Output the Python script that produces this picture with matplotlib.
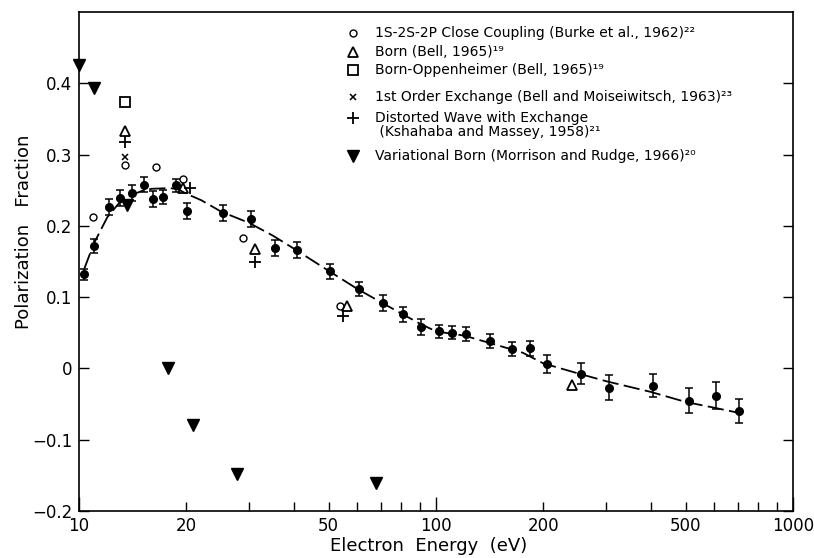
import matplotlib
matplotlib.use("Agg")
import matplotlib.pyplot as plt
from matplotlib.ticker import FixedLocator, FixedFormatter

# measured polarization fraction vs electron energy (eV)
energy = [10.3, 11.0, 12.1, 13.05, 14.1, 15.2, 16.1, 17.2, 18.7, 20.1,
          25.3, 30.3, 35.4, 40.7, 50.6, 60.8, 71.0, 80.8, 91.0, 101.7,
          110.9, 121, 142, 163, 183, 204, 254, 305, 406, 511, 610, 706]
polarization = [0.132, 0.172, 0.226, 0.239, 0.246, 0.258, 0.238, 0.241, 0.257, 0.221,
                0.218, 0.210, 0.169, 0.166, 0.136, 0.111, 0.0915, 0.076, 0.058, 0.052,
                0.050, 0.048, 0.039, 0.027, 0.028, 0.006, -0.0075, -0.027, -0.024, -0.045, -0.038, -0.060]
error = [0.008, 0.010, 0.011, 0.011, 0.011, 0.011, 0.011, 0.010, 0.009, 0.011,
         0.011, 0.011, 0.0115, 0.011, 0.0105, 0.010, 0.011, 0.0105, 0.0117, 0.0094,
         0.0094, 0.0096, 0.0099, 0.0099, 0.0099, 0.013, 0.0146, 0.0178, 0.016, 0.0176, 0.0185, 0.0167]

# smooth curve through the data
curve_e = [10.35, 11, 12, 13, 14, 15, 16, 18, 19, 20, 22, 25, 30, 35, 40, 50, 60, 70, 80,
           90, 100, 120, 150, 175, 200, 250, 300, 400, 500, 600, 700]
curve_p = [0.14, 0.175, 0.212, 0.233, 0.243, 0.249, 0.252, 0.253, 0.251, 0.245, 0.236, 0.220,
           0.204, 0.186, 0.168, 0.137, 0.112, 0.093, 0.077, 0.063, 0.052, 0.046, 0.032, 0.022,
           0.007, -0.007, -0.018, -0.033, -0.047, -0.055, -0.062]

# theory
cc_e = [10.97, 13.45, 16.4, 19.6, 28.8, 53.8]
cc_p = [0.213, 0.285, 0.282, 0.266, 0.183, 0.087]
born_e = [13.45, 19.5, 31.1, 56.2, 240]
born_p = [0.333, 0.2525, 0.167, 0.087, -0.0235]
bo_e = [13.45]
bo_p = [0.374]
exch_e = [13.45]
exch_p = [0.296]
dw_e = [13.45, 20.4, 31.1, 54.8]
dw_p = [0.318, 0.253, 0.150, 0.073]
vb_e = [10.0, 11.0, 13.6, 17.8, 20.9, 27.7, 67.9]
vb_p = [0.425, 0.393, 0.229, 0.0, -0.080, -0.148, -0.161]

labels = [
    "1S-2S-2P Close Coupling (Burke et al., 1962)\u00b2\u00b2",
    "Born (Bell, 1965)\u00b9\u2079",
    "Born-Oppenheimer (Bell, 1965)\u00b9\u2079",
    "1st Order Exchange (Bell and Moiseiwitsch, 1963)\u00b2\u00b3",
    "Distorted Wave with Exchange\n (Kshahaba and Massey, 1958)\u00b2\u00b9",
    "Variational Born (Morrison and Rudge, 1966)\u00b2\u2070",
]

fig = plt.figure(figsize=(8.14, 5.58), dpi=100)
ax = fig.add_axes([79 / 814, 1 - 511 / 558, 714 / 814, 499 / 558])

ax.plot(curve_e, curve_p, color="black", lw=1.3, ls=(0, (9, 3)))
ax.errorbar(energy, polarization, yerr=error, fmt="o", color="black", ms=5.5,
            capsize=2.6, elinewidth=1.1, capthick=1.1, zorder=3)

styles = [
    dict(marker="o", ms=5, mfc="white", mec="black", mew=1.0),
    dict(marker="^", ms=7, mfc="none", mec="black", mew=1.3),
    dict(marker="s", ms=6.5, mfc="none", mec="black", mew=1.3),
    dict(marker="x", ms=4.5, color="black", mew=1.1),
    dict(marker="+", ms=8, color="black", mew=1.3),
    dict(marker="v", ms=8, color="black"),
]
series = [(cc_e, cc_p), (born_e, born_p), (bo_e, bo_p),
          (exch_e, exch_p), (dw_e, dw_p), (vb_e, vb_p)]
for (xs, ys), st in zip(series, styles):
    ax.plot(xs, ys, ls="none", zorder=4, clip_on=False, **st)

# key, placed by hand (pixel rows from the top of the axes box)
def to_axes(px, py):
    return (px - 79) / 714, (511 - py) / 499

key_rows = [33, 52, 70, 97, 118, 156]
text_rows = [33, 52, 70, 97, 125, 156]
for st, lab, ym, yt in zip(styles, labels, key_rows, text_rows):
    ax.plot(*to_axes(353, ym), ls="none", transform=ax.transAxes, clip_on=False, **st)
    ax.text(*to_axes(375, yt), lab, transform=ax.transAxes, fontsize=10,
            va="center", ha="left", linespacing=1.05)

ax.set_xscale("log")
ax.set_xlim(10, 1000)
ax.set_ylim(-0.2, 0.5)

ax.xaxis.set_major_locator(FixedLocator([10, 100, 1000]))
ax.xaxis.set_major_formatter(FixedFormatter(["10", "100", "1000"]))
minor = [20, 30, 40, 50, 60, 70, 80, 90, 200, 300, 400, 500, 600, 700, 800, 900]
ax.xaxis.set_minor_locator(FixedLocator(minor))
ax.xaxis.set_minor_formatter(FixedFormatter(
    ["20", "", "", "50", "", "", "", "", "200", "", "", "500", "", "", "", ""]))

yt = [-0.2, -0.1, 0, 0.1, 0.2, 0.3, 0.4]
ax.yaxis.set_major_locator(FixedLocator(yt))
ax.yaxis.set_major_formatter(FixedFormatter(["\u22120.2", "\u22120.1", "0", "0.1", "0.2", "0.3", "0.4"]))

ax.tick_params(axis="x", which="major", direction="in", length=10, width=1.0, labelsize=12, pad=4)
ax.tick_params(axis="x", which="minor", direction="in", length=6.5, width=1.0, labelsize=12, pad=4)
ax.tick_params(axis="y", direction="in", length=7, width=1.0, labelsize=12, pad=5,
               right=True)
for s in ax.spines.values():
    s.set_linewidth(1.2)

ax.set_xlabel("Electron  Energy  (eV)", fontsize=13)
ax.set_ylabel("Polarization   Fraction", fontsize=13)
ax.xaxis.set_label_coords(0.489, -0.052)
ax.yaxis.set_label_coords(-0.064, 0.56)

fig.savefig("out.png", dpi=100)
